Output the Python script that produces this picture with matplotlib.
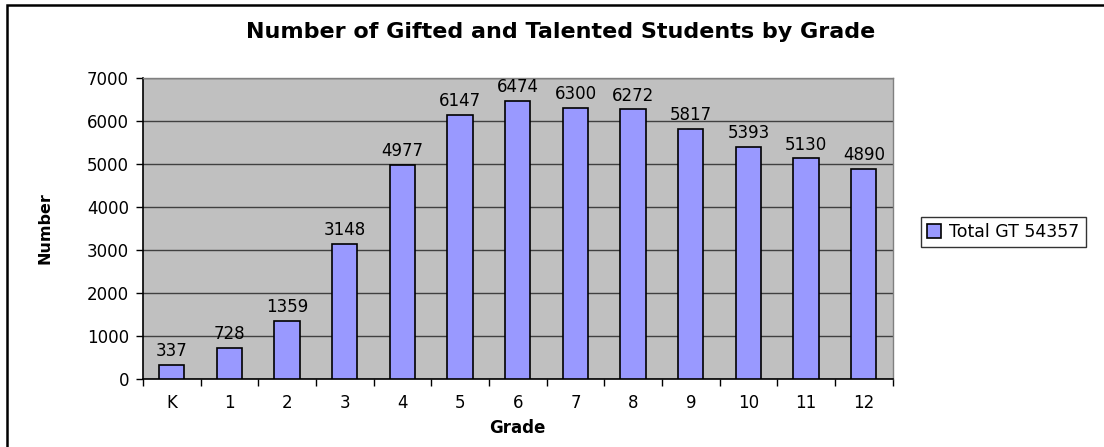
import numpy as np
import matplotlib.pyplot as plt
from matplotlib.patches import Rectangle

# data
grades = ['K', '1', '2', '3', '4', '5', '6', '7', '8', '9', '10', '11', '12']
counts = [337, 728, 1359, 3148, 4977, 6147, 6474, 6300, 6272, 5817, 5393, 5130, 4890]
series_name = 'Total GT 54357'

plt.rcParams['font.family'] = ['DejaVu Sans']

fig = plt.figure(figsize=(11.04, 4.47), dpi=100)
ax = fig.add_axes([0.1295, 0.152, 0.679, 0.6734])

# outer chart frame
fig.patches.append(Rectangle((7 / 1104, -0.1), 1.2, (447 - 5) / 447 + 0.1,
                             transform=fig.transFigure, fill=False,
                             edgecolor='black', linewidth=1.8, zorder=10))

x = np.arange(len(grades))
bars = ax.bar(x, counts, width=0.44, color='#9999FF', edgecolor='black',
              linewidth=1.2, label=series_name, zorder=3)

for xi, v in zip(x, counts):
    ax.text(xi, v + 110, str(v), ha='center', va='bottom', fontsize=12)

ax.set_facecolor('#C0C0C0')
ax.set_xlim(-0.5, len(grades) - 0.5)
ax.set_ylim(0, 7000)
ax.set_yticks(range(0, 7001, 1000))
ax.yaxis.grid(True, color='#404040', linewidth=1.0, zorder=0)
ax.set_axisbelow(True)

ax.set_xticks(x)
ax.set_xticklabels(grades, fontsize=12)
ax.set_xticks(np.arange(-0.5, len(grades), 1), minor=True)
ax.tick_params(axis='x', which='major', length=0, pad=11)
ax.tick_params(axis='x', which='minor', length=5, width=1, direction='out')
ax.tick_params(axis='y', length=5, width=1, direction='out', labelsize=12, pad=5)

for s in ['left', 'bottom']:
    ax.spines[s].set_color('black')
    ax.spines[s].set_linewidth(1.2)
for s in ['top', 'right']:
    ax.spines[s].set_color('#808080')
    ax.spines[s].set_linewidth(1.0)

ax.set_xlabel('Grade', fontsize=12, fontweight='bold', labelpad=5)
ax.set_ylabel('Number', fontsize=11.5, fontweight='bold', labelpad=25,
              family=['Liberation Sans Narrow', 'DejaVu Sans'])

fig.text(0.508, 0.928, 'Number of Gifted and Talented Students by Grade',
         ha='center', va='center', fontsize=16, fontweight='bold')

leg = fig.legend(loc='center left', bbox_to_anchor=(912 / 1104, (447 - 232) / 447),
                 fontsize=12.5, frameon=True, fancybox=False, borderpad=0.35,
                 handlelength=0.8, handleheight=0.8, handletextpad=0.5)
leg.get_frame().set_edgecolor('black')
leg.get_frame().set_linewidth(1.0)

fig.savefig('out.png', dpi=100)
